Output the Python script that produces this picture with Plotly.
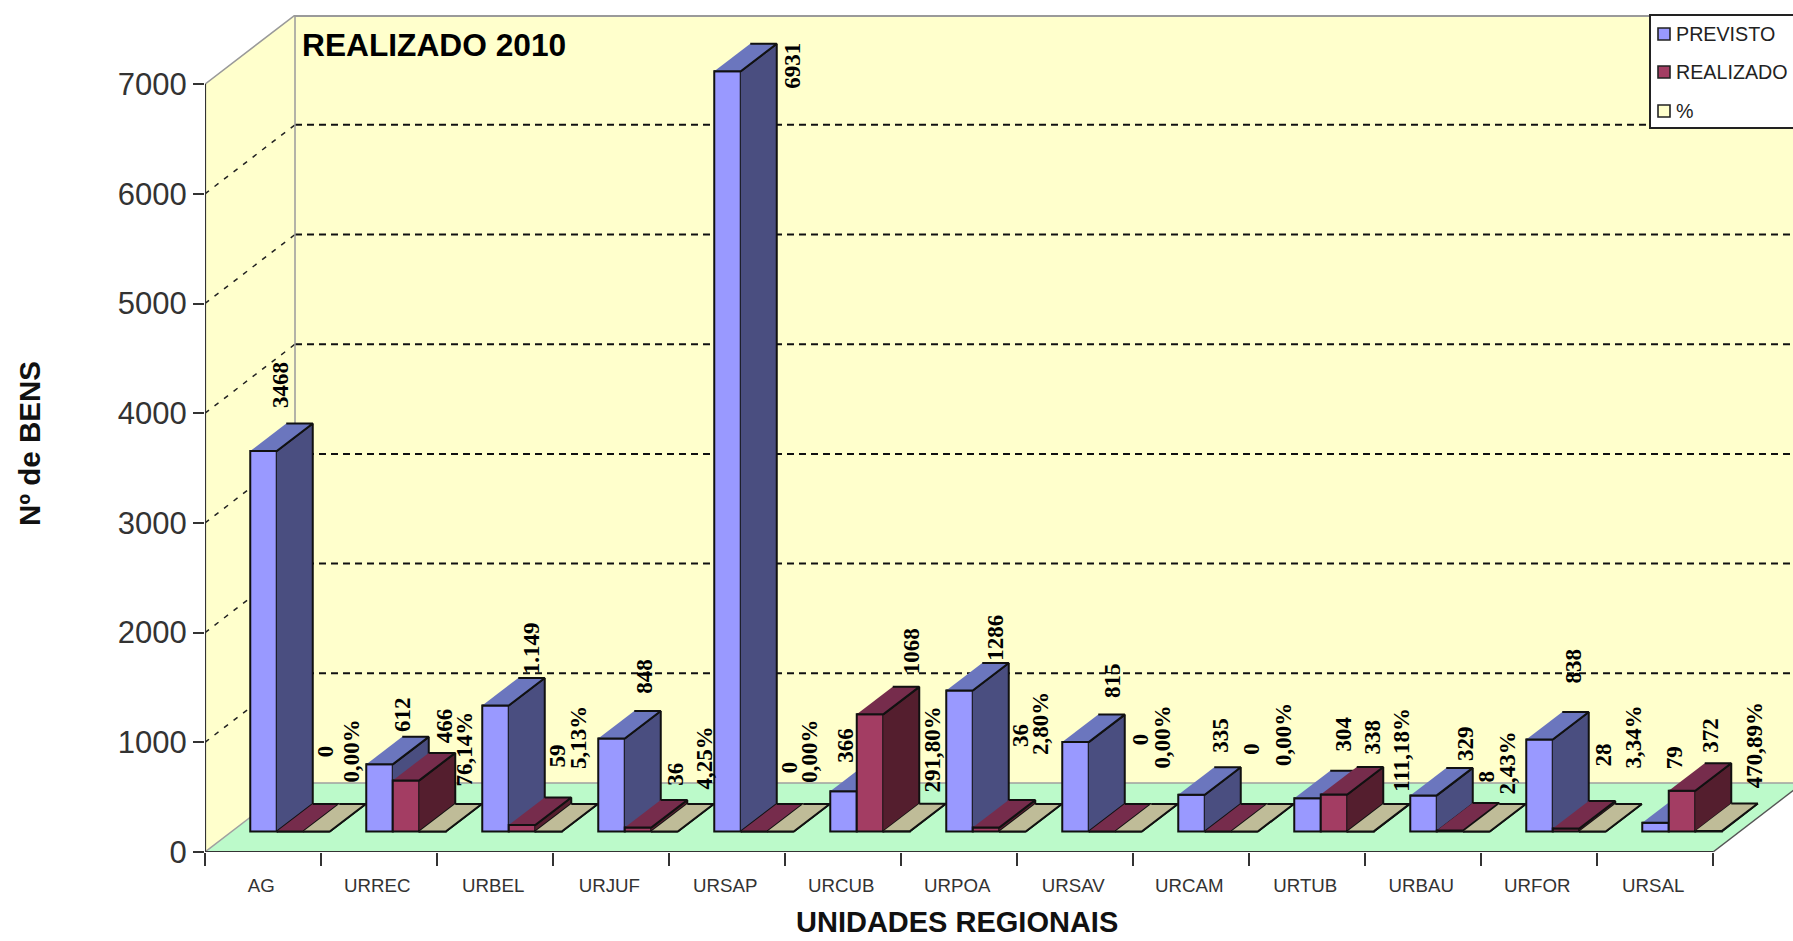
import plotly.graph_objects as go

# ---------- data ----------
categories = ["AG", "URREC", "URBEL", "URJUF", "URSAP", "URCUB", "URPOA",
              "URSAV", "URCAM", "URTUB", "URBAU", "URFOR", "URSAL"]
previsto = [3468, 612, 1149, 848, 6931, 366, 1286, 815, 335, 304, 329, 838, 79]
realizado = [0, 466, 59, 36, 0, 1068, 36, 0, 0, 338, 8, 28, 372]
percent = [0.00, 76.14, 5.13, 4.25, 0.00, 291.80, 2.80, 0.00, 0.00, 111.18, 2.43, 3.34, 470.89]
series_names = ["PREVISTO", "REALIZADO", "%"]
y_ticks = [0, 1000, 2000, 3000, 4000, 5000, 6000, 7000]
previsto_text = ["3468", "612", "1.149", "848", "6931", "366", "1286", "815", "335", "304", "329", "838", "79"]
realizado_text = [str(v) for v in realizado]
percent_text = [f"{v:.2f}%".replace(".", ",") for v in percent]

# ---------- label nudges in px of the shrunk view: (right, up) ----------
NUDGE = [
    [(-1, 14), (5, 4), (16, 3), (13, 15), (41, -39), (-14, 1), (15.5, 2), (17, 15), (10, 13), (16, 17), (21, 6), (14, 25), (1, 23)],
    [(15, 41), (17.5, 8), (15, 26), (17, 12.5), (15, 27), (20, 11), (15, 46), (18, 51), (14, 43), (18, 11), (16.5, 18), (17, 30), (9, 9)],
    [(15, 19), (12, 15), (10, 31), (19.5, 13), (10, 19), (15.6, 10), (9, 43), (14, 31), (19, 33), (20, 11), (11, 8), (20, 31), (24.5, 13)],
]
NUDGE_SCALE = 1.1435

# ---------- layout constants ----------
W, H = 1793, 941
ML, MR, MT, MB = 205, 0, 15, 89
PX_PER_CAT = 116.0
PX_PER_UNIT = 0.1097
PLOT_W, PLOT_H = W - ML - MR, H - MT - MB
X_MAX = PLOT_W / PX_PER_CAT
Y_MAX = PLOT_H / PX_PER_UNIT
N = len(categories)

WALL_DX, WALL_DY = 90 / PX_PER_CAT, 69 / PX_PER_UNIT
BAR_DX, BAR_DY = 36 / PX_PER_CAT, 27.5 / PX_PER_UNIT
FRONT_DX, FRONT_DY = 27 / PX_PER_CAT, 20.5 / PX_PER_UNIT
BAR_W = 26.5 / PX_PER_CAT
GROUP_PAD = (1 - 3 * BAR_W) / 2

WALL = "#FFFFCC"
FLOOR = "#BCFACA"
EDGE = "#111111"
COLORS = [
    dict(front="#9999FF", top="#6B76BE", side="#4A4E80"),
    dict(front="#A33D63", top="#762C4C", side="#541E2E"),
    dict(front="#FFFFCC", top="#BFBC98", side="#8F8C70"),
]

fig = go.Figure()


def poly(xs, ys, fill, line=None, width=0, z=0, name=None):
    fig.add_trace(go.Scatter(
        x=xs, y=ys, mode="lines", fill="toself", fillcolor=fill,
        line=dict(color=line or fill, width=width), hoverinfo="skip",
        showlegend=False, zorder=z, name=name))


def stroke(xs, ys, color, width=1, dash="solid", z=0):
    fig.add_trace(go.Scatter(
        x=xs, y=ys, mode="lines", line=dict(color=color, width=width, dash=dash),
        hoverinfo="skip", showlegend=False, zorder=z, cliponaxis=True))


# walls and floor
top = y_ticks[-1]
poly([0, WALL_DX, WALL_DX, 0], [0, WALL_DY, top + WALL_DY, top], WALL, z=0)
poly([WALL_DX, X_MAX + 1, X_MAX + 1, WALL_DX], [WALL_DY, WALL_DY, top + WALL_DY, top + WALL_DY], WALL, z=0)
poly([0, N, N + WALL_DX, WALL_DX], [0, 0, WALL_DY, WALL_DY], FLOOR, z=0)

# gridlines on both walls
bx, by, sx, sy = [], [], [], []
for t in y_ticks[1:-1]:
    bx += [WALL_DX, X_MAX + 1, None]
    by += [t + WALL_DY, t + WALL_DY, None]
    sx += [0, WALL_DX, None]
    sy += [t, t + WALL_DY, None]
stroke(bx, by, "#111111", 2, "7px,5px", z=1)
stroke(sx, sy, "#222222", 1.5, "5px,7px", z=1)

# wall border lines
stroke([0, WALL_DX, WALL_DX], [top, top + WALL_DY, WALL_DY], "#9A9A9A", 1.5, z=1)
stroke([WALL_DX, X_MAX + 1], [top + WALL_DY - 8, top + WALL_DY - 8], "#9A9A9A", 2, z=1)
stroke([0, WALL_DX, X_MAX + 1], [0, WALL_DY, WALL_DY], "#A0A0A0", 1.5, z=1)
stroke([N, N + WALL_DX], [0, WALL_DY], "#555555", 1.5, z=1)

# bars: painted left to right so nearer faces overlap correctly
all_values = [previsto, realizado, [p / 100 for p in percent]]
all_text = [previsto_text, realizado_text, percent_text]
lift = FRONT_DY
z = 2
annotations = []
for i in range(N):
    for j in range(3):
        v = all_values[j][i]
        c = COLORS[j]
        x0 = i + GROUP_PAD + FRONT_DX + j * BAR_W
        x1 = x0 + BAR_W
        fig.add_trace(go.Bar(
            x=[x0 + BAR_W / 2], y=[v], base=[lift], width=[BAR_W],
            marker=dict(color=c["front"], line=dict(color=EDGE, width=2)),
            name=series_names[j], showlegend=False, hoverinfo="skip", zorder=z))
        t0 = lift + v
        poly([x1, x1 + BAR_DX, x1 + BAR_DX, x1], [lift, lift + BAR_DY, t0 + BAR_DY, t0],
             c["side"], EDGE, 2, z)
        poly([x0, x1, x1 + BAR_DX, x0 + BAR_DX], [t0, t0, t0 + BAR_DY, t0 + BAR_DY],
             c["top"], EDGE, 2, z)
        nx, ny = NUDGE[j][i]
        annotations.append(dict(
            x=x0 + BAR_W / 2 + BAR_DX / 2, y=t0 + BAR_DY, xref="x", yref="y",
            text=f"<b>{all_text[j][i]}</b>", showarrow=False, textangle=-90,
            xanchor="center", yanchor="bottom",
            xshift=nx * NUDGE_SCALE, yshift=ny * NUDGE_SCALE,
            borderpad=0, borderwidth=0,
            font=dict(family="Liberation Serif", size=23, color="#000000")))
        z += 1

# front axis lines
stroke([0, N], [0, 0], "#333333", 2.2, z=z)
stroke([0, 0], [0, top], "#333333", 2.2, z=z)


def px(x):
    return (x - ML) / PLOT_W


def py(y):
    return (H - MB - y) / PLOT_H


# text placed on the page
annotations += [
    dict(x=px(300), y=py(45), xref="paper", yref="paper", text="<b>REALIZADO 2010</b>", showarrow=False,
         xanchor="left", yanchor="middle", font=dict(family="Liberation Sans", size=31.7, color="#000000")),
    dict(x=px(957), y=py(922), xref="paper", yref="paper", text="<b>UNIDADES REGIONAIS</b>", showarrow=False,
         xanchor="center", yanchor="middle", font=dict(family="Liberation Sans", size=29, color="#111111")),
    dict(x=px(29), y=py(444), xref="paper", yref="paper", text="<b>Nº de BENS</b>", showarrow=False, textangle=-90,
         xanchor="center", yanchor="middle", font=dict(family="Liberation Sans", size=29.5, color="#111111")),
]

# legend box
shapes = [dict(type="rect", xref="paper", yref="paper", x0=px(1650), x1=px(1830), y0=py(128), y1=py(15),
               fillcolor="#FFFFFF", line=dict(color="#222222", width=2), layer="above")]
LEG_Y = [34, 72, 111]
for j, name in enumerate(series_names):
    shapes.append(dict(type="rect", xref="paper", yref="paper", x0=px(1658), x1=px(1670),
                       y0=py(LEG_Y[j] + 6), y1=py(LEG_Y[j] - 6), fillcolor=COLORS[j]["front"],
                       line=dict(color="#222222", width=1.6), layer="above"))
    annotations.append(dict(x=px(1674), y=py(LEG_Y[j]), xref="paper", yref="paper", text=name, showarrow=False,
                            xanchor="left", yanchor="middle",
                            font=dict(family="Liberation Sans", size=19.7, color="#222222")))

fig.update_layout(
    width=W, height=H, margin=dict(l=ML, r=MR, t=MT, b=MB, pad=0, autoexpand=False),
    paper_bgcolor="#FFFFFF", plot_bgcolor="#FFFFFF", barmode="overlay", showlegend=False,
    shapes=shapes, annotations=annotations,
    font=dict(family="Liberation Sans"),
    xaxis=dict(range=[0, X_MAX], showgrid=False, zeroline=False, showline=False,
               tickmode="array", tickvals=[i + 0.485 for i in range(N)], ticktext=categories,
               ticks="", tickfont=dict(family="Liberation Sans", size=18.7, color="#333333"),
               ticklabelstandoff=20,
               minor=dict(tickmode="array", tickvals=list(range(N + 1)), ticks="outside",
                          ticklen=13, tickwidth=2, tickcolor="#333333", showgrid=False)),
    yaxis=dict(range=[0, Y_MAX], showgrid=False, zeroline=False, showline=False,
               tickmode="array", tickvals=y_ticks, ticks="outside", ticklen=11, tickwidth=2,
               tickcolor="#333333", tickfont=dict(family="Liberation Sans", size=31, color="#333333")),
)

fig.write_html("out.html", config=dict(displayModeBar=False),
               post_script="document.body.style.margin='0';document.body.style.overflow='hidden';")
